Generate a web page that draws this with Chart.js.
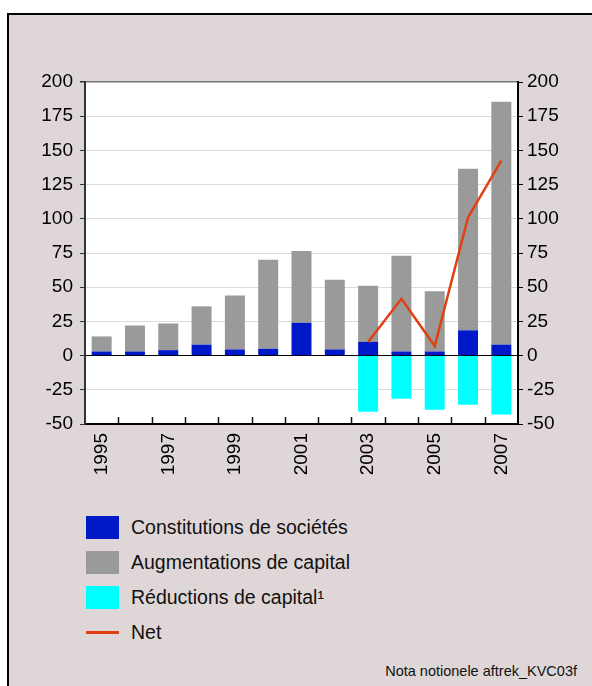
<!DOCTYPE html>
<html>
<head>
<meta charset="utf-8">
<script src="https://cdn.jsdelivr.net/npm/chart.js@4"></script>
<style>
  body { margin: 0; background: #fff; font-family: "Liberation Sans", Arial, sans-serif; }
  #frame { position: absolute; left: 7px; top: 13px; width: 620px; height: 700px;
           background: #dfd6d7; border: 2px solid #000; }
  #chart { position: absolute; left: 0; top: 0; }
  #legend { position: absolute; left: 86px; top: 515px; }
  .item { position: relative; height: 35px; }
  .swatch { position: absolute; left: 0; top: 1px; width: 33px; height: 23px; }
  .line { position: absolute; left: 0; top: 11px; width: 33px; height: 3px; }
  .label { position: absolute; left: 45px; top: 0; font-size: 19.5px; color: #111; white-space: nowrap; line-height: 24px; }
  #note { position: absolute; right: 15px; top: 663px; font-size: 14.5px; color: #111; }
</style>
</head>
<body>
<div id="frame"></div>
<canvas id="chart" width="592" height="500"></canvas>
<div id="legend"></div>
<div id="note">Nota notionele aftrek_KVC03f</div>
<script>
// categories
const years = ['1995','1996','1997','1998','1999','2000','2001','2002','2003','2004','2005','2006','2007'];

// series values (bn EUR)
const constitutions = [3, 3, 4, 8, 4.5, 5, 24, 4.5, 10, 3, 3, 18.5, 8];
const augmentations = [11, 19, 19.5, 28, 39.5, 65, 52.5, 51, 41, 70, 44, 118, 177.5];
const reductions = [null, null, null, null, null, null, null, null, -41, -31.5, -39.5, -36, -43];
const net = [null, null, null, null, null, null, null, null, 10, 41.5, 7, 101, 142.5];

const seriesNames = ['Constitutions de sociétés', 'Augmentations de capital', 'Réductions de capital¹', 'Net'];
const seriesColors = ['#0019c8', '#9a9a9a', '#00ffff', '#e0400f'];

// y tick range
const yMin = -50, yMax = 200, yStep = 25;

const plotBg = {
  id: 'plotBg',
  beforeDraw(chart) {
    const a = chart.chartArea, c = chart.ctx;
    c.save();
    c.fillStyle = '#fff';
    c.fillRect(a.left, a.top, a.right - a.left, a.bottom - a.top);
    c.restore();
  },
  afterDraw(chart) {
    // small inward tick marks between categories
    const xs = chart.scales.x, a = chart.chartArea, c = chart.ctx;
    c.save();
    c.strokeStyle = '#111';
    c.lineWidth = 1.5;
    for (let i = 1; i < years.length; i++) {
      const x = Math.round((xs.getPixelForTick(i - 1) + xs.getPixelForTick(i)) / 2) + 0.5;
      c.beginPath();
      c.moveTo(x, a.bottom);
      c.lineTo(x, a.bottom - 7);
      c.stroke();
    }
    c.restore();
  }
};

const ctx = document.getElementById('chart').getContext('2d');
new Chart(ctx, {
  data: {
    labels: years,
    datasets: [
      { type: 'bar', label: seriesNames[0], data: constitutions, backgroundColor: seriesColors[0], stack: 'a', order: 2 },
      { type: 'bar', label: seriesNames[1], data: augmentations, backgroundColor: seriesColors[1], stack: 'a', order: 2 },
      { type: 'bar', label: seriesNames[2], data: reductions, backgroundColor: seriesColors[2], stack: 'a', order: 2 },
      { type: 'line', label: seriesNames[3], data: net, borderColor: seriesColors[3], borderWidth: 2.5,
        pointRadius: 0, tension: 0, stack: 'net', order: 1 }
    ]
  },
  options: {
    responsive: false,
    animation: false,
    devicePixelRatio: 1,
    layout: { padding: { top: 82, left: 0, right: 0, bottom: 0 } },
    datasets: { bar: { barPercentage: 0.6, categoryPercentage: 1 } },
    plugins: { legend: { display: false }, tooltip: { enabled: false } },
    scales: {
      x: {
        stacked: true,
        afterFit(s) { s.height = 76; },
        grid: { display: true, drawOnChartArea: false, drawTicks: false },
        border: { color: '#000', width: 2 },
        ticks: {
          autoSkip: false, minRotation: 90, maxRotation: 90, padding: 9,
          color: '#000', font: { family: 'Liberation Sans', size: 19 },
          callback: (v, i) => (i % 2 === 0 ? years[i] : '')
        }
      },
      y: {
        stacked: true, position: 'left', min: yMin, max: yMax,
        afterFit(s) { s.width = 85; },
        grid: {
          color: (c) => c.tick.value === 0 ? '#000' : (c.tick.value === yMax ? '#777' : '#dadada'),
          lineWidth: (c) => c.tick.value === yMax ? 1.5 : 1,
          tickLength: 5, tickColor: '#333'
        },
        border: { color: '#333', width: 2 },
        ticks: { stepSize: yStep, padding: 7, color: '#000', font: { family: 'Liberation Sans', size: 19 } }
      },
      y2: {
        position: 'right', min: yMin, max: yMax,
        afterFit(s) { s.width = 74; },
        grid: { drawOnChartArea: false, tickLength: 5, tickColor: '#000' },
        border: { color: '#000', width: 2 },
        ticks: { stepSize: yStep, padding: 4, color: '#000', font: { family: 'Liberation Sans', size: 19 } }
      }
    }
  },
  plugins: [plotBg]
});

// legend
const legend = document.getElementById('legend');
seriesNames.forEach((name, i) => {
  const row = document.createElement('div');
  row.className = 'item';
  const mark = document.createElement('div');
  mark.className = i === 3 ? 'line' : 'swatch';
  mark.style.background = seriesColors[i];
  const lab = document.createElement('div');
  lab.className = 'label';
  lab.textContent = name;
  row.appendChild(mark);
  row.appendChild(lab);
  legend.appendChild(row);
});
</script>
</body>
</html>
